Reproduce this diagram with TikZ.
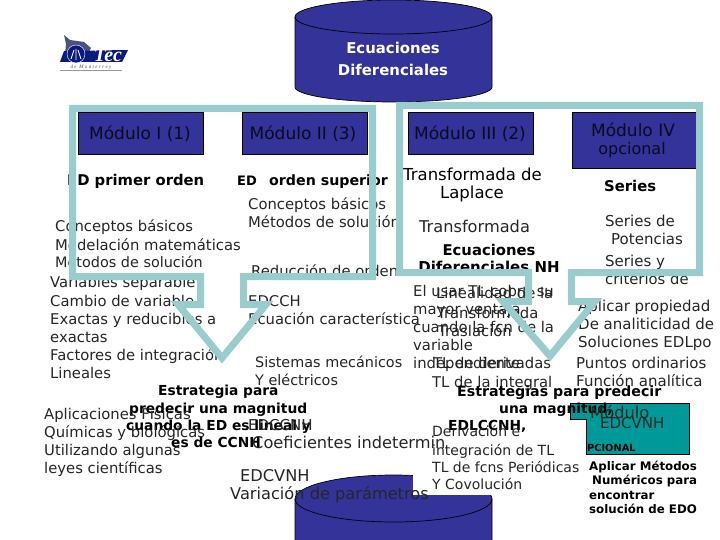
\documentclass[tikz,border=0pt]{standalone}
\usepackage{fontspec}
\setmainfont{DejaVu Sans}
\newfontfamily\logofont{Liberation Serif}
\newfontfamily\tagfont[LetterSpace=28]{Liberation Serif}
\definecolor{navy}{HTML}{333399}
\definecolor{frame}{HTML}{99CCCC}
\definecolor{tealbox}{HTML}{009999}
\definecolor{logoblue}{HTML}{0A1A80}
\tikzset{
  txt/.style={anchor=base west,inner sep=0pt,font=\fontsize{14.8}{16}\selectfont,text=black!85},
  smalltxt/.style={txt,font=\fontsize{14.4}{16}\selectfont},
  bigtxt/.style={txt,font=\fontsize{16.2}{18}\selectfont},
  widetxt/.style={txt,font=\fontsize{15}{16}\selectfont},
  bld/.style={anchor=base west,inner sep=0pt,font=\fontsize{13.8}{16}\bfseries\selectfont,text=black},
  bldbig/.style={bld,font=\fontsize{14.8}{16}\bfseries\selectfont},
  hd/.style={anchor=base west,inner sep=0pt,font=\fontsize{16.5}{18}\selectfont,text=black},
  mini/.style={anchor=base west,inner sep=0pt,font=\fontsize{11.8}{14}\bfseries\selectfont,text=black},
  modbox/.style={draw=black,line width=.7pt,fill=navy},
  modtxt/.style={anchor=base,inner sep=0pt,font=\fontsize{17}{18}\selectfont,text=black!80!navy},
  cyl/.style={draw=black,line width=.7pt,fill=navy},
  cyltxt/.style={anchor=base,inner sep=0pt,font=\fontsize{14.9}{16}\bfseries\selectfont,text=white},
  framepath/.style={draw=frame,line width=7pt,line join=miter,miter limit=10},
}
\begin{document}
\begin{tikzpicture}[x=1pt,y=-1pt]
\useasboundingbox (0,0) rectangle (720,540);
\clip (0,0) rectangle (720,540);
\fill[white] (0,0) rectangle (720,540);

% logo
\fill[logoblue!45!gray] (64,35) -- (70,40) -- (84,42) -- (91,48) -- (88,54) -- (65,54) -- (66,44) -- cycle;
\fill[logoblue] (64,51) -- (128,50) -- (122,62) -- (60,62) -- cycle;
\node[circle,draw=white,fill=logoblue,minimum size=18pt,inner sep=0pt] (emblem) at (76,54) {};
\draw[white,line width=.8pt] (71,59) -- (74,50) (76,60) -- (76,49) (81,59) -- (78,50);
\node[anchor=base,inner sep=0pt,font=\logofont\fontsize{20}{20}\bfseries\itshape\selectfont,text=white] (tec) at (108,61.5) {Tec};
\node[anchor=base,inner sep=0pt,font=\tagfont\fontsize{5}{5}\itshape\selectfont,text=black!70] (tag) at (91,68.5) {de Monterrey};
\draw[black!40,line width=.4pt] (60,70.5) -- (122,70.5);

% top cylinder
\path[cyl] (295,17) arc[start angle=180,end angle=360,x radius=98.5,y radius=17] -- (492,87)
  arc[start angle=0,end angle=180,x radius=98.5,y radius=15] -- cycle;
\draw[black,line width=.7pt] (295,17) arc[start angle=180,end angle=0,x radius=98.5,y radius=17];
\node[cyltxt] (c1) at (393,54) {Ecuaciones};
\node[cyltxt] (c2) at (393,76) {Diferenciales};

% bottom cylinder
\path[cyl] (295,499) arc[start angle=180,end angle=360,x radius=98.5,y radius=24] -- (492,560) -- (295,560) -- cycle;
\draw[black,line width=.7pt] (295,499) arc[start angle=180,end angle=0,x radius=98.5,y radius=23];
\fill[white] (413,465) rectangle (500,495);

% module boxes
\path[modbox] (78,112) rectangle (203,154);
\path[modbox] (242,112) rectangle (367,154);
\path[modbox] (408,112) rectangle (533,154);
\path[modbox] (572,112) rectangle (702,168);
\node[modtxt] (m1) at (140,140) {Módulo I (1)};
\node[modtxt] (m2) at (303,140) {Módulo II (3)};
\node[modtxt] (m3) at (470,140) {Módulo III (2)};
\node[modtxt] (m4a) at (633,137) {Módulo IV};
\node[modtxt,font=\fontsize{16}{18}\selectfont] (m4b) at (632,155) {opcional};

% teal box
\path[draw=black,line width=.6pt,fill=tealbox] (570,403) -- (689,403) -- (689,454) -- (586,454) -- (586,419) -- (570,419) -- cycle;

% column I
\node[bldbig] (a0) at (67,186) {ED primer orden};
\node[txt] (a1) at (55,232) {Conceptos básicos};
\node[txt] (a2) at (55,250) {Modelación matemáticas};
\node[smalltxt] (a3) at (55,267) {Métodos de solución};
\node[txt] (a4) at (50,287) {Variables separable};
\node[txt] (a5) at (50,306) {Cambio de variable};
\node[txt] (a6) at (50,324) {Exactas y reducibles a};
\node[txt] (a7) at (50,342) {exactas};
\node[txt] (a8) at (50,360) {Factores de integración};
\node[txt] (a9) at (50,378) {Lineales};
\node[bld] (a10) at (158,395) {Estrategia para};
\node[bld] (a11) at (129,413) {predecir una magnitud};
\node[bld] (a12) at (126,430) {cuando la ED es lineal y};
\node[bld] (a13) at (171,447) {es de  CCNH};
\node[txt] (a14) at (44,419) {Aplicaciones Físicas};
\node[txt] (a15) at (44,437) {Químicas y biológicas};
\node[txt] (a16) at (44,455) {Utilizando algunas};
\node[txt] (a17) at (44,473) {leyes científicas};

% column II
\node[anchor=base west,inner sep=0pt,font=\fontsize{13}{14}\bfseries\selectfont] (b0a) at (237,186) {ED};
\node[bld,font=\fontsize{14.2}{16}\bfseries\selectfont] (b0) at (269,186) {orden superior};
\node[txt] (b1) at (248,210) {Conceptos básicos};
\node[txt] (b2) at (248,228) {Métodos de solución};
\node[txt] (b3) at (251,276) {Reducción de orden};
\node[txt] (b4) at (248,306) {EDCCH};
\node[txt] (b5) at (248,324) {Ecuación característica};
\node[smalltxt] (b6) at (255,367) {Sistemas mecánicos};
\node[smalltxt] (b7) at (255,385) {Y eléctricos};
\node[bigtxt,font=\fontsize{15}{16}\selectfont] (b8) at (248,430) {EDCCNH};
\node[bigtxt] (b9) at (252,448) {Coeficientes indetermin};
\node[bigtxt] (b10) at (240,481) {EDCVNH};
\node[bigtxt] (b11) at (230,499) {Variación de parámetros};

% column III
\node[hd] (c3) at (403,181) {Transformada de};
\node[hd,anchor=base] (c4) at (472,199) {Laplace};
\node[bigtxt] (c5) at (419,233) {Transformada};
\node[bldbig,anchor=base] (c6) at (489,255) {Ecuaciones};
\node[bldbig,font=\fontsize{15}{16}\bfseries\selectfont,anchor=base] (c7) at (489,272) {Diferenciales NH};
\node[txt] (c8) at (413,296) {El usar TL  cobra su};
\node[txt] (c9) at (413,314) {mayor ventaja};
\node[txt] (c10) at (413,332) {cuando la fcn de la};
\node[txt] (c11) at (413,350) {variable};
\node[txt] (c12) at (413,368) {independiente};
\node[txt] (c13) at (436,298) {Linealidad de la};
\node[txt] (c14) at (437,318) {Transformada};
\node[txt] (c15) at (438,336) {Traslación};
\node[txt] (c16) at (433,368) {TL de derivadas};
\node[txt] (c17) at (432,387) {TL de la integral};
\node[bld,font=\fontsize{14.2}{16}\bfseries\selectfont] (c18) at (457,396) {Estrategias para predecir};
\node[bld] (c19) at (499,413) {una magnitud,};
\node[bld] (c20) at (448,430) {EDLCCNH,};
\node[txt,font=\fontsize{14}{16}\selectfont] (c21) at (432,436) {Derivación e};
\node[txt,font=\fontsize{14}{16}\selectfont] (c22) at (432,455) {integración de TL};
\node[txt,font=\fontsize{14}{16}\selectfont] (c23) at (432,472) {TL de fcns Periódicas};
\node[txt,font=\fontsize{14}{16}\selectfont] (c24) at (432,489) {Y Covolución};

% column IV
\node[bldbig] (d0) at (604,192) {Series};
\node[widetxt] (d1) at (605,226) {Series de};
\node[widetxt] (d2) at (611,244) {Potencias};
\node[widetxt] (d3) at (605,266) {Series y};
\node[txt] (d4) at (605,284) {criterios de};
\node[widetxt] (d5) at (578,311) {Aplicar propiedad};
\node[widetxt] (d6) at (578,329) {De analiticidad de};
\node[widetxt] (d7) at (578,347) {Soluciones EDLpo};
\node[widetxt] (d8) at (576,368) {Puntos ordinarios};
\node[widetxt] (d9) at (576,386) {Función analítica};
\node[txt,font=\fontsize{16.3}{18}\selectfont] (d10) at (590,418) {Módulo};
\node[widetxt] (d11) at (600,428) {EDCVNH};
\node[anchor=base west,inner sep=0pt,font=\fontsize{9.8}{11}\bfseries\selectfont] (d12) at (587,451) {PCIONAL};
\node[mini] (d13) at (589,470) {Aplicar Métodos};
\node[mini] (d14) at (592,484) {Numéricos para};
\node[mini] (d15) at (589,499) {encontrar};
\node[mini] (d16) at (589,513) {solución de EDO};

% frames with arrow heads
\draw[framepath] (72.5,108.5) -- (372.5,108.5) -- (372.5,276.5) -- (243.5,276.5) -- (243.5,304.5)
  -- (266,304.5) -- (222,358) -- (178,304.5) -- (200.5,304.5) -- (200.5,276.5) -- (72.5,276.5) -- cycle;
\draw[framepath] (399.5,105.5) -- (699.5,105.5) -- (699.5,272.5) -- (571.5,272.5) -- (571.5,301.5)
  -- (595,301.5) -- (550,356) -- (503,301.5) -- (528.5,301.5) -- (528.5,272.5) -- (399.5,272.5) -- cycle;
\end{tikzpicture}
\end{document}
